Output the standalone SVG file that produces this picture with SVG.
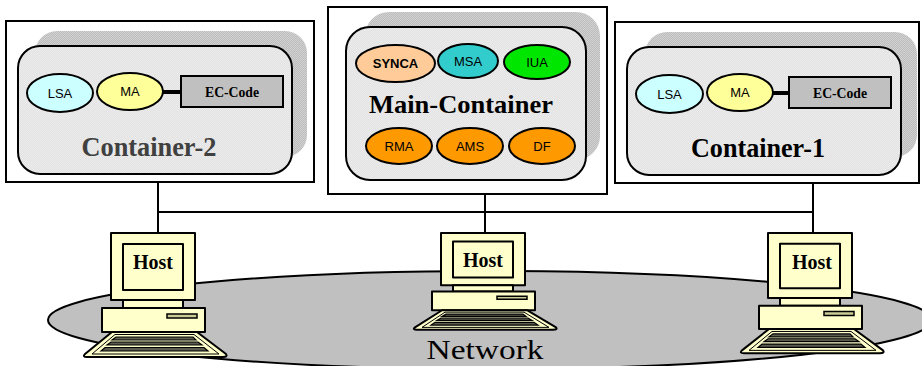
<svg xmlns="http://www.w3.org/2000/svg" xmlns:xlink="http://www.w3.org/1999/xlink" width="922" height="366" viewBox="0 0 922 366">
  <defs>
    <!-- fine dithered greys for the platform panels -->
    <pattern id="ditherDark" width="2" height="2" patternUnits="userSpaceOnUse">
      <rect width="2" height="2" fill="#bcbcbc"/>
      <rect width="1" height="1" fill="#d2d2d2"/>
      <rect x="1" y="1" width="1" height="1" fill="#d2d2d2"/>
    </pattern>
    <pattern id="ditherLight" width="2" height="2" patternUnits="userSpaceOnUse">
      <rect width="2" height="2" fill="#e2e2e2"/>
      <rect width="1" height="1" fill="#ececec"/>
      <rect x="1" y="1" width="1" height="1" fill="#ececec"/>
    </pattern>
    <!-- desktop computer, local origin at base left / monitor top -->
    <g id="pc">
      <rect class="pcpart" x="9" y="0" width="84" height="67"/>
      <rect class="pcpart" x="21" y="11" width="60" height="46"/>
      <rect class="pcpart" x="21" y="67" width="60" height="8"/>
      <rect class="pcpart" x="0" y="75" width="103" height="24"/>
      <rect class="slot" x="65" y="81" width="30" height="4"/>
      <path class="pcpart" d="M10,99 L95,99 L124,121 Q126,124 121,124 L-15,124 Q-20,124 -17,121 Z"/>
      <path class="pcpart" d="M13,101.5 L92,101.5 L117,121 L-10,121 Z" style="stroke-width:1"/>
      <polygon class="key" points="14,104 91,104 94,107 10,107"/>
      <polygon class="key" points="9,109 96,109 100,112 5,112"/>
      <polygon class="key" points="3,114.5 102,114.5 106,118 -1,118"/>
    </g>
  </defs>
  <style>
    .frame { fill: #ffffff; stroke: #000; stroke-width: 2; }
    .shadow { fill: url(#ditherDark); }
    .panel { fill: url(#ditherLight); stroke: #000; stroke-width: 2; }
    .agent { stroke: #000; stroke-width: 2; }
    .sans { font-family: "Liberation Sans", Arial, sans-serif; font-size: 13px; text-anchor: middle; fill: #000; }
    .serifb { font-family: "Liberation Serif", "Times New Roman", serif; font-weight: bold; text-anchor: middle; fill: #000; }
    .code { fill: #c0c0c0; stroke: #000; stroke-width: 2; }
    .link { stroke: #000; stroke-width: 4; }
    .wire { stroke: #000; stroke-width: 2; fill: none; }
    .pcpart { fill: #ffffcc; stroke: #000; stroke-width: 2; vector-effect: non-scaling-stroke; stroke-linejoin: round; }
    .slot { fill: #cccc99; stroke: #000; stroke-width: 1.5; vector-effect: non-scaling-stroke; }
    .key { fill: #5c5c50; stroke: #000; stroke-width: 1.2; vector-effect: non-scaling-stroke; }
  </style>

  <!-- network ring -->
  <g id="network">
    <ellipse cx="490" cy="320" rx="442" ry="49" fill="#c0c0c0" stroke="#000" stroke-width="2"/>
    <text x="485" y="359" font-family="'Liberation Serif', 'Times New Roman', serif" font-size="27" text-anchor="middle" textLength="117" lengthAdjust="spacingAndGlyphs">Network</text>
  </g>

  <!-- cabling between containers and hosts -->
  <g id="connectors">
    <line class="wire" x1="158" y1="182" x2="158" y2="234"/>
    <line class="wire" x1="485" y1="193" x2="485" y2="234"/>
    <line class="wire" x1="813" y1="183" x2="813" y2="233"/>
    <line class="wire" x1="158" y1="212" x2="813" y2="212"/>
  </g>

  <!-- Container-2 -->
  <g id="container2">
    <rect class="frame" x="6" y="21" width="308" height="161"/>
    <rect class="shadow" x="35" y="31" width="272" height="126" rx="22"/>
    <rect class="panel" x="18" y="46" width="274" height="128" rx="22"/>
    <ellipse class="agent" cx="60" cy="93" rx="33" ry="19" fill="#ccffff"/>
    <text class="sans" x="60" y="98">LSA</text>
    <line class="link" x1="162" y1="92" x2="181" y2="92"/>
    <ellipse class="agent" cx="130" cy="91.5" rx="33" ry="18.5" fill="#ffff99"/>
    <text class="sans" x="130" y="96">MA</text>
    <rect class="code" x="181" y="76" width="102" height="31"/>
    <text class="serifb" x="232" y="97" font-size="14" textLength="54" lengthAdjust="spacingAndGlyphs">EC-Code</text>
    <text class="serifb" x="149" y="156" font-size="27" style="fill:#404040" textLength="135" lengthAdjust="spacingAndGlyphs">Container-2</text>
  </g>

  <!-- Main-Container -->
  <g id="main-container">
    <rect class="frame" x="328" y="7" width="279" height="187"/>
    <rect class="shadow" x="365" y="12" width="235" height="148" rx="24"/>
    <rect class="panel" x="346" y="27" width="240" height="153" rx="24"/>
    <ellipse class="agent" cx="395.5" cy="63.5" rx="39.5" ry="18.5" fill="#ffcc99"/>
    <text class="sans" x="395.5" y="68" font-weight="bold">SYNCA</text>
    <ellipse class="agent" cx="468" cy="61" rx="30" ry="17" fill="#33cccc"/>
    <text class="sans" x="468" y="66">MSA</text>
    <ellipse class="agent" cx="537" cy="62" rx="33" ry="17" fill="#00e600"/>
    <text class="sans" x="537" y="67">IUA</text>
    <text class="serifb" x="461" y="113" font-size="26" textLength="184" lengthAdjust="spacingAndGlyphs">Main-Container</text>
    <ellipse class="agent" cx="399" cy="146" rx="33" ry="18" fill="#ff9900"/>
    <text class="sans" x="399" y="151">RMA</text>
    <ellipse class="agent" cx="470" cy="146" rx="33" ry="18" fill="#ff9900"/>
    <text class="sans" x="470" y="151">AMS</text>
    <ellipse class="agent" cx="542" cy="146" rx="33" ry="18" fill="#ff9900"/>
    <text class="sans" x="542" y="151">DF</text>
  </g>

  <!-- Container-1 -->
  <g id="container1">
    <rect class="frame" x="615" y="22" width="304" height="161"/>
    <rect class="shadow" x="645" y="32" width="272" height="125" rx="22"/>
    <rect class="panel" x="627" y="47" width="274" height="128" rx="22"/>
    <ellipse class="agent" cx="669.5" cy="94" rx="33.5" ry="19" fill="#ccffff"/>
    <text class="sans" x="669.5" y="99">LSA</text>
    <line class="link" x1="772" y1="93" x2="789" y2="93"/>
    <ellipse class="agent" cx="740" cy="92.5" rx="33" ry="18.5" fill="#ffff99"/>
    <text class="sans" x="740" y="97">MA</text>
    <rect class="code" x="789" y="77" width="102" height="31"/>
    <text class="serifb" x="840" y="98" font-size="14" textLength="54" lengthAdjust="spacingAndGlyphs">EC-Code</text>
    <text class="serifb" x="758" y="157" font-size="27" textLength="134" lengthAdjust="spacingAndGlyphs">Container-1</text>
  </g>

  <!-- hosts -->
  <g id="host-left">
    <use xlink:href="#pc" href="#pc" transform="translate(102,233)"/>
    <text class="serifb" x="153" y="269" font-size="21" textLength="40" lengthAdjust="spacingAndGlyphs">Host</text>
  </g>
  <g id="host-middle">
    <use xlink:href="#pc" href="#pc" transform="translate(432,233) scale(1,0.78)"/>
    <text class="serifb" x="483" y="267" font-size="21" textLength="40" lengthAdjust="spacingAndGlyphs">Host</text>
  </g>
  <g id="host-right">
    <use xlink:href="#pc" href="#pc" transform="translate(759,233) scale(1,0.97)"/>
    <text class="serifb" x="812" y="269" font-size="21" textLength="40" lengthAdjust="spacingAndGlyphs">Host</text>
  </g>
</svg>
